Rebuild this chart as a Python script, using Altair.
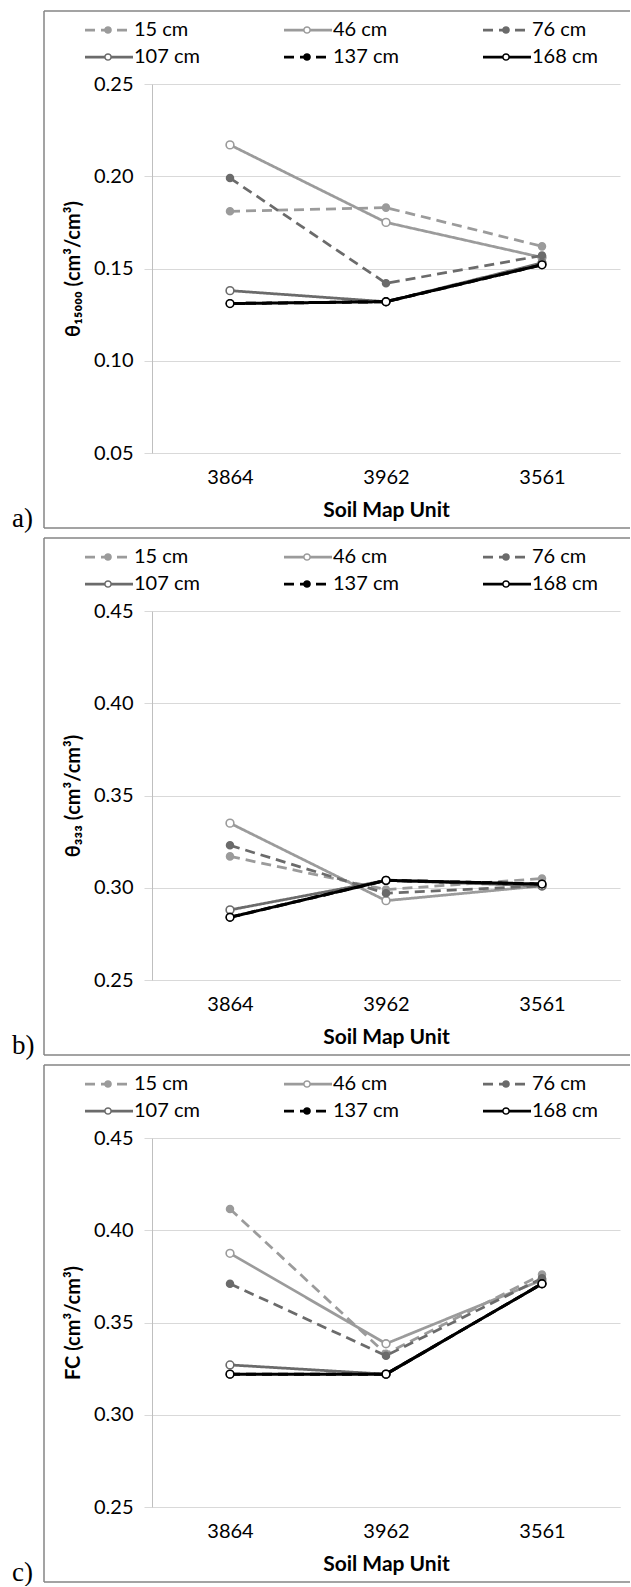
import altair as alt
import pandas as pd

# ---------------- data ----------------
units = ["3864", "3962", "3561"]
depths = ["15 cm", "46 cm", "76 cm", "107 cm", "137 cm", "168 cm"]

# a) theta_15000
a_15cm = [0.181, 0.183, 0.162]
a_46cm = [0.217, 0.175, 0.156]
a_76cm = [0.199, 0.142, 0.157]
a_107cm = [0.138, 0.132, 0.153]
a_137cm = [0.131, 0.132, 0.152]
a_168cm = [0.131, 0.132, 0.152]

# b) theta_333
b_15cm = [0.317, 0.299, 0.305]
b_46cm = [0.335, 0.293, 0.301]
b_76cm = [0.323, 0.297, 0.301]
b_107cm = [0.288, 0.304, 0.301]
b_137cm = [0.284, 0.304, 0.302]
b_168cm = [0.284, 0.304, 0.302]

# c) FC
c_15cm = [0.4115, 0.333, 0.376]
c_46cm = [0.3875, 0.3385, 0.373]
c_76cm = [0.371, 0.332, 0.374]
c_107cm = [0.327, 0.322, 0.371]
c_137cm = [0.322, 0.322, 0.371]
c_168cm = [0.322, 0.322, 0.371]

y_titles = ["θ₁₅₀₀₀ (cm³/cm³)", "θ₃₃₃ (cm³/cm³)", "FC (cm³/cm³)"]
y_domains = [[0.05, 0.25], [0.25, 0.45], [0.25, 0.45]]
y_ticks = [[0.05, 0.10, 0.15, 0.20, 0.25], [0.25, 0.30, 0.35, 0.40, 0.45], [0.25, 0.30, 0.35, 0.40, 0.45]]
panel_tags = ["a)", "b)", "c)"]
panel_series = [
    [a_15cm, a_46cm, a_76cm, a_107cm, a_137cm, a_168cm],
    [b_15cm, b_46cm, b_76cm, b_107cm, b_137cm, b_168cm],
    [c_15cm, c_46cm, c_76cm, c_107cm, c_137cm, c_168cm],
]

# legend layout (column / row of each entry)
legend_col = [0, 1, 2, 0, 1, 2]
legend_row = [0, 0, 0, 1, 1, 1]

# ---------------- styles ----------------
LIGHT, MID, BLACK = "#9b9b9b", "#6b6b6b", "#000000"
line_colors = [LIGHT, LIGHT, MID, MID, BLACK, BLACK]
dash_styles = [[10, 6], [1, 0], [10, 6], [1, 0], [10, 6], [1, 0]]
is_filled = [True, False, True, False, True, False]
fill_colors = [c if f else "#ffffff" for c, f in zip(line_colors, is_filled)]
line_widths = [2.75, 2.75, 2.75, 2.75, 3, 3]

W, H = 468, 369
FONT = "Lato"
GRID = "#d9d9d9"


def make_panel(k):
    rows = []
    for d, vals in zip(depths, panel_series[k]):
        for u, v in zip(units, vals):
            rows.append({"depth": d, "unit": u, "value": v})
    df = pd.DataFrame(rows)

    x_enc = alt.X(
        "unit:N",
        sort=units,
        title="Soil Map Unit",
        scale=alt.Scale(padding=0.5),
        axis=alt.Axis(
            labelAngle=0, ticks=False, grid=False, domainColor=GRID,
            labelFontSize=20, labelPadding=14, labelColor="black", labelFont=FONT,
            titleFontSize=21, titleFontWeight="bold", titlePadding=12,
            titleColor="black", titleFont=FONT,
        ),
    )
    y_enc = alt.Y(
        "value:Q",
        scale=alt.Scale(domain=y_domains[k], nice=False, zero=False),
        axis=alt.Axis(
            values=y_ticks[k], format=".2f", tickSize=8, tickColor=GRID,
            gridColor=GRID, domainColor="#bfbfbf", labelPadding=11,
            labelFontSize=20, labelColor="black", labelFont=FONT,
            title=y_titles[k], titleFontSize=20, titleFontWeight="bold",
            titlePadding=10, titleColor="black", titleFont=FONT,
        ),
    )

    base = alt.Chart(df)
    series_layers = []
    for i, d in enumerate(depths):
        sel = base.transform_filter(alt.datum.depth == d)
        series_layers.append(
            sel.mark_line(color=line_colors[i], strokeWidth=line_widths[i],
                          strokeDash=dash_styles[i]).encode(x=x_enc, y=y_enc)
        )
        series_layers.append(
            sel.mark_point(shape="circle", filled=True, fill=fill_colors[i],
                           stroke=line_colors[i], strokeWidth=1.6,
                           size=60 if not is_filled[i] else 48, opacity=1)
            .encode(x=x_enc, y=y_enc)
        )
    data_group = alt.layer(*series_layers)

    # ---- legend drawn with its own scales ----
    leg = pd.DataFrame({"label": depths, "col": legend_col, "row": legend_row})
    lb = alt.Chart(leg).transform_calculate(
        x0="datum.col", x1="datum.col + 48/199",
        xc="datum.col + 23/199", xt="datum.col + 49/199",
    )
    xs = alt.Scale(domain=[0, 1], range=[-67, 132])
    ys = alt.Scale(domain=[0, 1], range=[-54, -27])
    color_s = alt.Scale(domain=depths, range=line_colors)
    leg_rule = lb.mark_rule().encode(
        x=alt.X("x0:Q", scale=xs, axis=None),
        x2="x1:Q",
        y=alt.Y("row:Q", scale=ys, axis=None),
        color=alt.Color("label:N", scale=color_s, legend=None),
        strokeDash=alt.StrokeDash("label:N", scale=alt.Scale(domain=depths, range=dash_styles), legend=None),
        strokeWidth=alt.StrokeWidth("label:N", scale=alt.Scale(domain=depths, range=line_widths), legend=None),
    )
    leg_pt = lb.mark_point(shape="circle", filled=True, strokeWidth=1.5, size=38, opacity=1).encode(
        x=alt.X("xc:Q", scale=xs, axis=None),
        y=alt.Y("row:Q", scale=ys, axis=None),
        fill=alt.Fill("label:N", scale=alt.Scale(domain=depths, range=fill_colors), legend=None),
        stroke=alt.Stroke("label:N", scale=color_s, legend=None),
    )
    leg_txt = lb.mark_text(align="left", baseline="middle", fontSize=20, font=FONT, color="black").encode(
        x=alt.X("xt:Q", scale=xs, axis=None),
        y=alt.Y("row:Q", scale=ys, axis=None),
        text="label:N",
    )
    legend_group = alt.layer(leg_rule, leg_pt, leg_txt)

    # ---- panel frame and tag ----
    one = alt.Chart(pd.DataFrame({"k": [0]}))
    frame_col = "#858585"
    f_left = one.mark_rule(color=frame_col, strokeWidth=1.5).encode(
        x=alt.value(-108), y=alt.value(-73), y2=alt.value(444))
    f_top = one.mark_rule(color=frame_col, strokeWidth=1.5).encode(
        x=alt.value(-108), x2=alt.value(478), y=alt.value(-73))
    f_bot = one.mark_rule(color=frame_col, strokeWidth=1.5).encode(
        x=alt.value(-108), x2=alt.value(478), y=alt.value(444))
    tag = one.mark_text(font="Liberation Serif", fontSize=27, align="left",
                        baseline="alphabetic", color="black").encode(
        x=alt.value(-140), y=alt.value(443), text=alt.value(panel_tags[k]))
    frame_group = alt.layer(f_left, f_top, f_bot, tag)

    return alt.layer(data_group, legend_group, frame_group).resolve_scale(
        x="independent", y="independent"
    ).properties(width=W, height=H)


chart = alt.vconcat(
    make_panel(0), make_panel(1), make_panel(2), spacing=158, bounds="flush"
).properties(
    padding={"left": 12, "top": 10, "right": 0, "bottom": 0}
).configure_view(stroke=None)

chart.save("out.html", embed_options={"renderer": "svg", "actions": False})
